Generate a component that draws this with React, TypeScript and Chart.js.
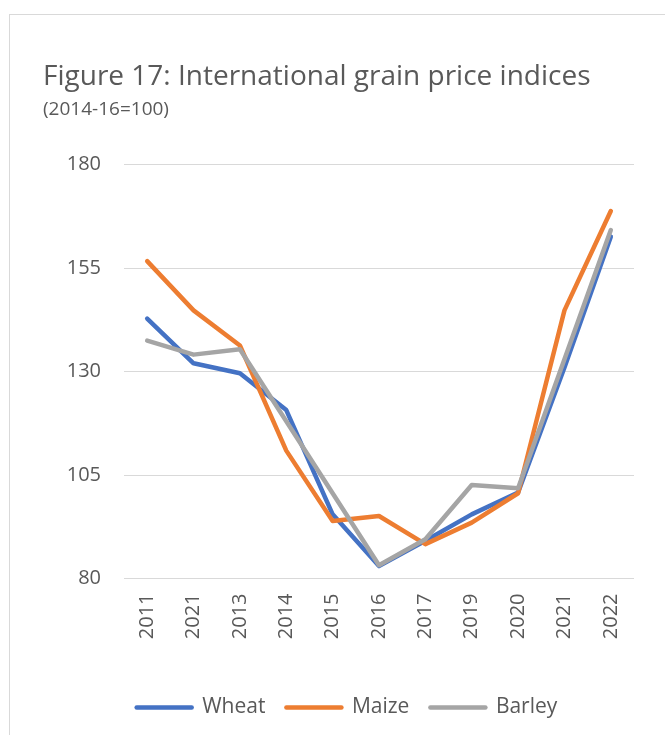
import React, { useEffect, useRef } from "react";
import { Chart, registerables } from "chart.js";

Chart.register(...registerables);

const categories = ["2011", "2021", "2013", "2014", "2015", "2016", "2017", "2019", "2020", "2021", "2022"];
const wheat = [142.8, 132.0, 129.6, 120.7, 95.5, 83.0, 89.1, 95.5, 100.8, 131.0, 162.6];
const maize = [156.7, 144.8, 136.3, 110.9, 93.9, 95.1, 88.3, 93.5, 100.6, 144.8, 168.8];
const barley = [137.5, 134.1, 135.4, 118.0, 100.6, 83.2, 89.5, 102.6, 101.8, 133.0, 164.2];
const seriesNames = ["Wheat", "Maize", "Barley"];
const seriesColors = ["#4472C4", "#ED7D31", "#A5A5A5"];
const yMin = 80;
const yMax = 180;
const yStep = 25;
const titleText = "Figure 17: International grain price indices";
const subtitleText = "(2014-16=100)";

const TEXT = "#595959";
const FONT = "'Open Sans', sans-serif";

export default function App() {
  const ref = useRef<HTMLCanvasElement>(null);

  useEffect(() => {
    if (!ref.current) return;
    const values = [wheat, maize, barley];
    const chart = new Chart(ref.current, {
      type: "line",
      data: {
        labels: categories,
        datasets: values.map((d, i) => ({
          label: seriesNames[i],
          data: d,
          borderColor: seriesColors[i],
          backgroundColor: seriesColors[i],
          order: 3 - i,
        })),
      },
      options: {
        animation: false,
        responsive: false,
        layout: { padding: { left: 33, right: 33, top: 0, bottom: 27 } },
        font: { family: FONT },
        elements: {
          line: { borderWidth: 4.5, borderCapStyle: "round", borderJoinStyle: "round", tension: 0 },
          point: { radius: 0, hoverRadius: 0 },
        },
        plugins: {
          title: {
            display: true,
            text: titleText,
            align: "start",
            color: TEXT,
            font: { family: FONT, size: 28, weight: "normal" },
            padding: { top: 45, bottom: 0 },
          },
          subtitle: {
            display: true,
            text: subtitleText,
            align: "start",
            color: TEXT,
            font: { family: FONT, size: 19, weight: "normal" },
            padding: { top: 5, bottom: 43.3 },
          },
          legend: {
            position: "bottom",
            labels: {
              usePointStyle: true,
              pointStyle: "line",
              pointStyleWidth: 55,
              boxHeight: 21,
              padding: 21,
              color: TEXT,
              font: { family: FONT, size: 21 },
              sort: (a: any, b: any) => a.datasetIndex - b.datasetIndex,
              generateLabels: (c: any) =>
                (Chart.defaults.plugins.legend.labels as any).generateLabels(c).map((l: any) => ({
                  ...l,
                  lineWidth: 4.5,
                  lineCap: "round",
                  pointStyle: "line",
                  strokeStyle: seriesColors[l.datasetIndex],
                  fontColor: TEXT,
                })),
            },
          },
          tooltip: { enabled: false },
        },
        scales: {
          x: {
            type: "category",
            offset: true,
            grid: { display: false, drawTicks: false },
            border: { display: false },
            ticks: {
              minRotation: 90,
              maxRotation: 90,
              autoSkip: false,
              padding: 15,
              color: TEXT,
              font: { family: FONT, size: 20 },
            },
            afterFit: (s: any) => {
              s.height = 97.5;
            },
          },
          y: {
            type: "linear",
            min: yMin,
            max: yMax,
            ticks: { stepSize: yStep, padding: 23, color: TEXT, font: { family: FONT, size: 20 } },
            grid: { color: "#D9D9D9", lineWidth: 1, drawTicks: false },
            border: { display: false },
            afterFit: (s: any) => {
              s.width = 81;
            },
          },
          yR: {
            type: "linear",
            position: "right",
            display: true,
            grid: { display: false, drawTicks: false },
            border: { display: false },
            ticks: { display: false },
            afterFit: (s: any) => {
              s.width = 17;
            },
          },
        },
      } as any,
    });
    return () => chart.destroy();
  }, []);

  return (
    <div
      style={{
        position: "fixed",
        left: 0,
        top: 0,
        width: 665,
        height: 735,
        overflow: "hidden",
        background: "#fff",
      }}
    >
      <div
        style={{
          position: "absolute",
          left: 9,
          top: 14,
          width: 676,
          height: 760,
          border: "1px solid #D9D9D9",
          boxSizing: "border-box",
        }}
      >
        <canvas ref={ref} width={674} height={740} style={{ display: "block" }} />
      </div>
    </div>
  );
}
